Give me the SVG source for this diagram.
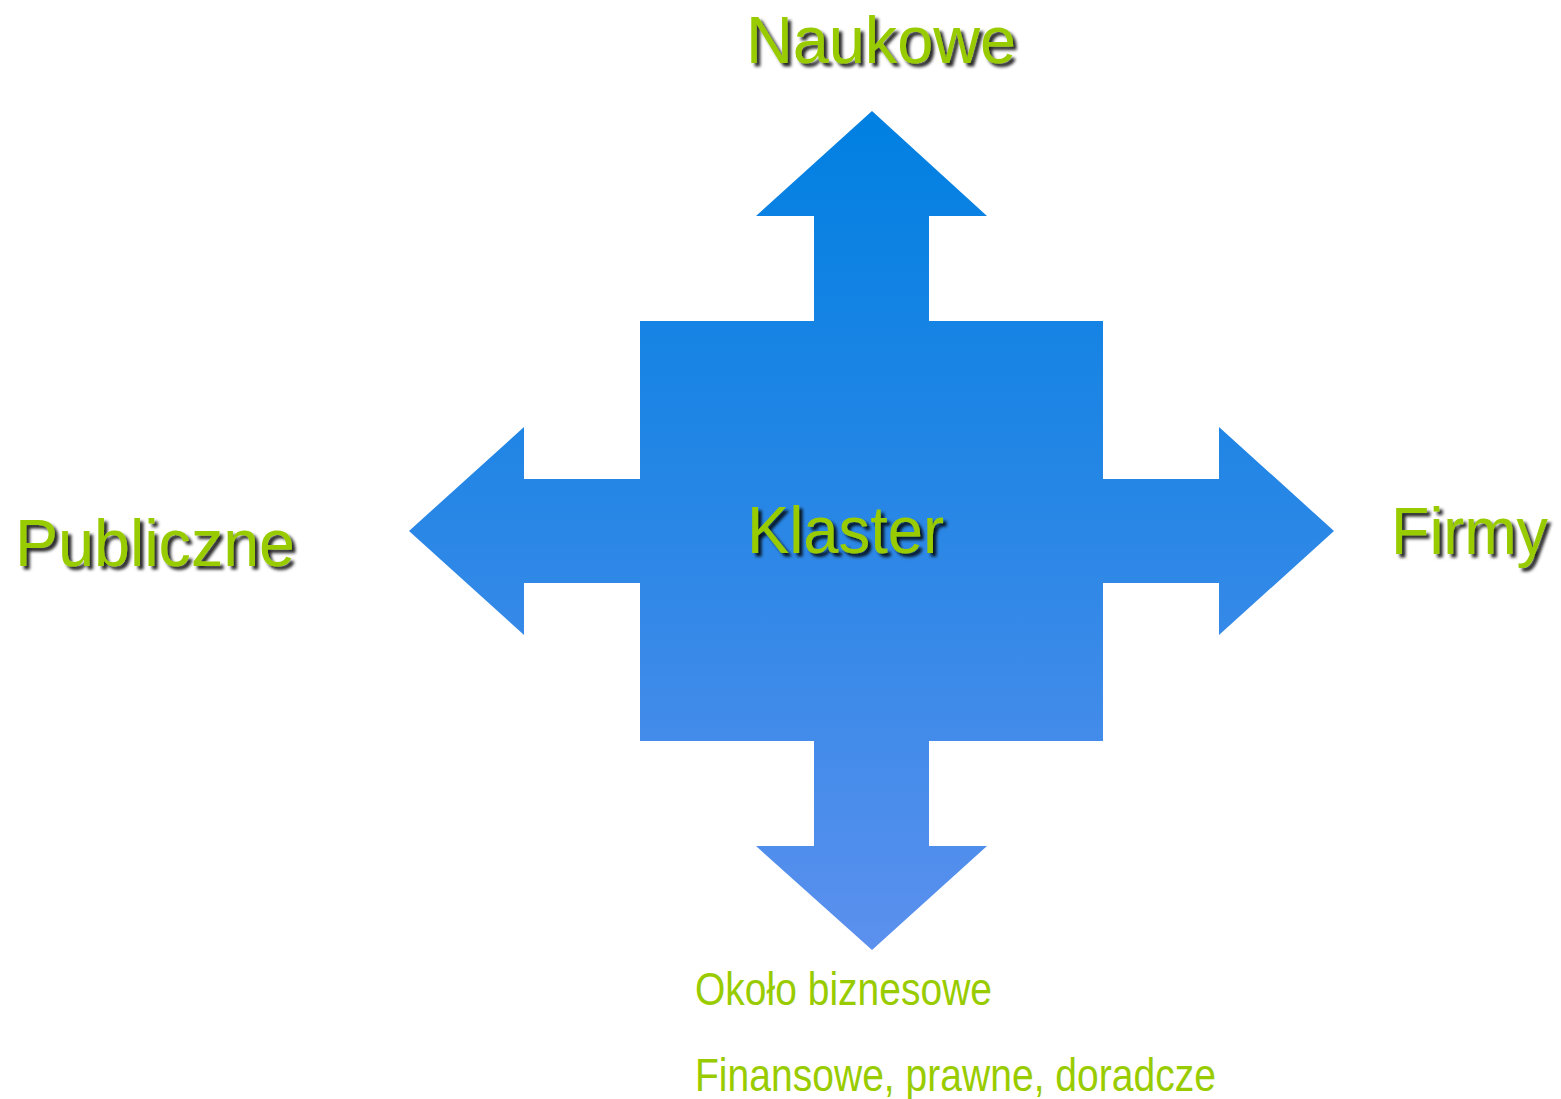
<svg xmlns="http://www.w3.org/2000/svg" width="1561" height="1099" viewBox="0 0 1561 1099">
  <defs>
    <linearGradient id="blueGrad" gradientUnits="userSpaceOnUse" x1="0" y1="111" x2="0" y2="950">
      <stop offset="0" stop-color="#0080E2"/>
      <stop offset="0.5" stop-color="#2A87E6"/>
      <stop offset="1" stop-color="#5C90EE"/>
    </linearGradient>
    <filter id="shadow" x="-10%" y="-20%" width="130%" height="160%">
      <feDropShadow dx="3.5" dy="3.5" stdDeviation="1.5" flood-color="#000000" flood-opacity="0.85"/>
    </filter>
  </defs>
  <style>
    .big { font-family: "Liberation Sans", Arial, sans-serif; font-size: 66px; fill: #99CC00; filter: url(#shadow); }
    .small { font-family: "Liberation Sans Narrow", "Liberation Sans", Arial, sans-serif; font-size: 46px; fill: #99CC00; }
  </style>
  <rect width="1561" height="1099" fill="#FFFFFF"/>
  <g id="connectors">
    <path id="shape" fill="url(#blueGrad)" d="M872,111 L987,216 L929,216 L929,321 L1103,321 L1103,479 L1219,479 L1219,427 L1334,531 L1219,635 L1219,583 L1103,583 L1103,741 L929,741 L929,846 L987,846 L872,950 L756,846 L814,846 L814,741 L640,741 L640,583 L524,583 L524,635 L409,531 L524,427 L524,479 L640,479 L640,321 L814,321 L814,216 L756,216 Z"/>
  </g>
  <g id="node-klaster">
    <text class="big" x="747" y="553" textLength="197" lengthAdjust="spacingAndGlyphs">Klaster</text>
  </g>
  <g id="node-naukowe">
    <text class="big" x="746" y="63" textLength="270" lengthAdjust="spacingAndGlyphs">Naukowe</text>
  </g>
  <g id="node-publiczne">
    <text class="big" x="15" y="566" textLength="280" lengthAdjust="spacingAndGlyphs">Publiczne</text>
  </g>
  <g id="node-firmy">
    <text class="big" x="1391" y="554" textLength="157" lengthAdjust="spacingAndGlyphs">Firmy</text>
  </g>
  <g id="node-okolo">
    <text class="small" x="695" y="1005" textLength="297" lengthAdjust="spacingAndGlyphs">Około biznesowe</text>
    <text class="small" x="695" y="1091" textLength="521" lengthAdjust="spacingAndGlyphs">Finansowe, prawne, doradcze</text>
  </g>
</svg>
